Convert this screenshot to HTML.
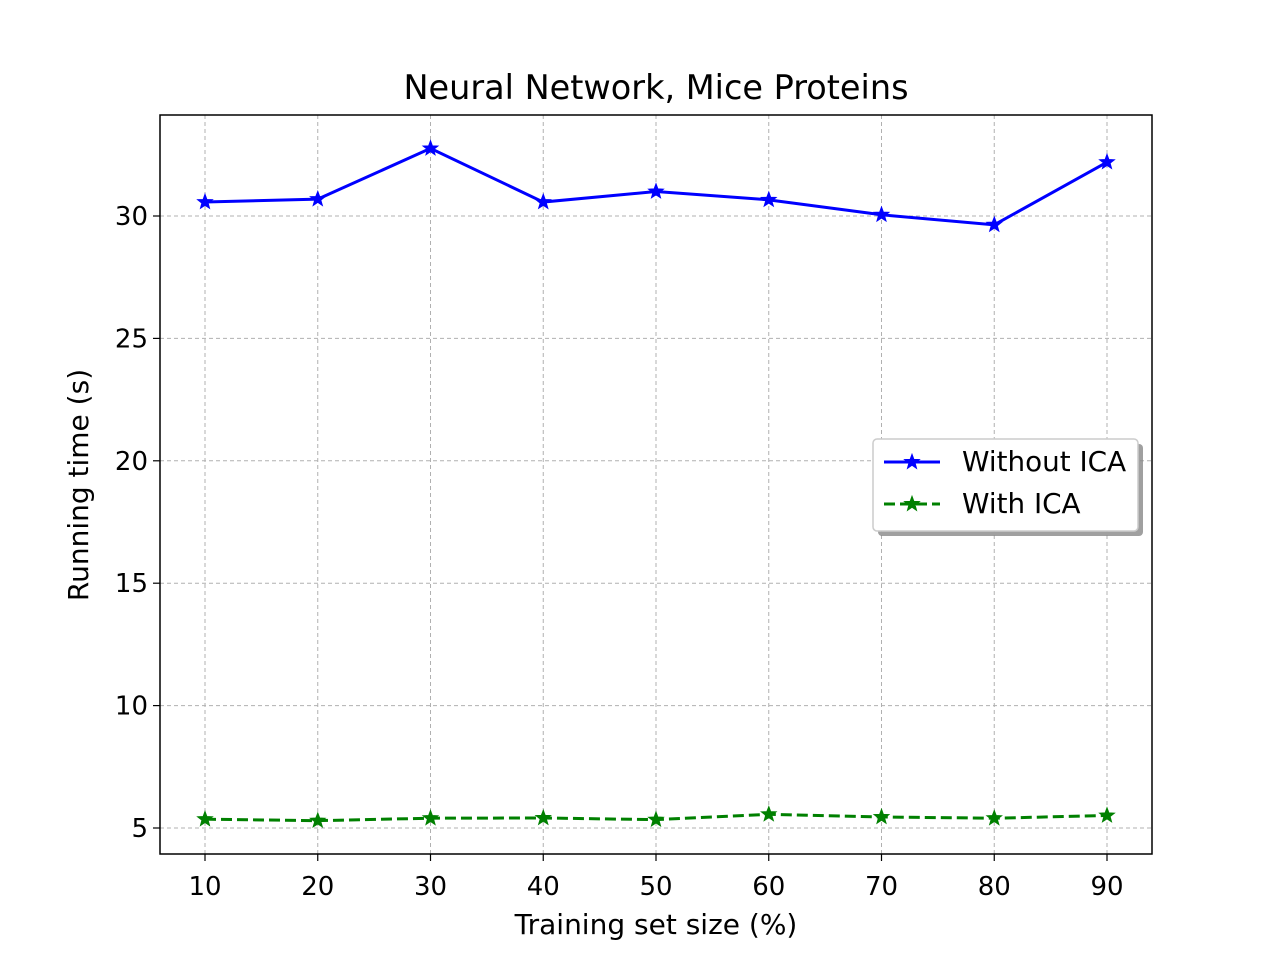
<!DOCTYPE html>
<html><head><meta charset="utf-8"><style>
html,body{margin:0;padding:0;background:#fff;}
svg text{font-family:"DejaVu Sans","Liberation Sans",sans-serif;fill:#000;}
</style></head><body>
<svg id="chart" width="1280" height="960" xmlns="http://www.w3.org/2000/svg">
<rect width="1280" height="960" fill="#fff"/>
<g id="grid"></g>
<g id="series"></g>
<rect x="160" y="115" width="992" height="739" fill="none" stroke="#000" stroke-width="1.5"/>
<g id="ticks"></g>
<text x="656" y="99" font-size="33.5" text-anchor="middle">Neural Network, Mice Proteins</text>
<text x="656" y="934" font-size="28" text-anchor="middle">Training set size (%)</text>
<text transform="translate(88,485) rotate(-90)" font-size="28" text-anchor="middle">Running time (s)</text>
<g>
<rect x="878" y="444" width="265" height="92" rx="4" fill="#888" opacity="0.8"/>
<rect x="873" y="439" width="265" height="92" rx="4" fill="#fff" stroke="#ccc" stroke-width="1.5"/>
<line x1="884" y1="462" x2="940" y2="462" stroke="#0000ff" stroke-width="3"/>
<text x="962" y="471" font-size="27.8">Without ICA</text>
<line x1="884" y1="504" x2="940" y2="504" stroke="#008000" stroke-width="3" stroke-dasharray="11,5"/>
<text x="962" y="513" font-size="27.8">With ICA</text>
<g id="legmarks"></g>
</g>
</svg>
<script>
const categories=[10,20,30,40,50,60,70,80,90];
const withoutIca=[30.57,30.69,32.76,30.57,31.0,30.66,30.05,29.64,32.2];
const withIca=[5.36,5.3,5.4,5.41,5.34,5.56,5.45,5.4,5.51];
const yTicks=[5,10,15,20,25,30];
const NS="http://www.w3.org/2000/svg";
function X(v){return 205+(v-10)*11.275;}
function Y(v){return 828-(v-5)*24.48;}
function mk(tag,attrs,parent){const e=document.createElementNS(NS,tag);for(const k in attrs)e.setAttribute(k,attrs[k]);parent.appendChild(e);return e;}
function star(cx,cy,r,color,parent){let p=[];for(let i=0;i<10;i++){const a=-Math.PI/2+i*Math.PI/5;const rr=i%2?r*0.42:r;p.push((cx+rr*Math.cos(a)).toFixed(1)+","+(cy+rr*Math.sin(a)).toFixed(1));}
const s=mk("polygon",{points:p.join(" "),fill:color,stroke:color,"stroke-width":1.5},parent);

}
const grid=document.getElementById("grid"),ticks=document.getElementById("ticks"),ser=document.getElementById("series");
categories.forEach(c=>{const x=X(c);
const g=mk("line",{x1:x,y1:115,x2:x,y2:854,stroke:"#b0b0b0","stroke-width":1,"stroke-dasharray":"4,3"},grid);


mk("line",{x1:x,y1:854,x2:x,y2:861,stroke:"#000","stroke-width":1.2},ticks);
const t=mk("text",{x:x,y:895,"font-size":26,"text-anchor":"middle"},ticks);t.textContent=c;

});
yTicks.forEach(v=>{const y=Y(v);
const g=mk("line",{x1:160,y1:y,x2:1152,y2:y,stroke:"#b0b0b0","stroke-width":1,"stroke-dasharray":"4,3"},grid);


mk("line",{x1:153,y1:y,x2:160,y2:y,stroke:"#000","stroke-width":1.2},ticks);
const t=mk("text",{x:148,y:y+9,"font-size":26,"text-anchor":"end"},ticks);t.textContent=v;

});
function line(vals,color,dash,name){
const pts=vals.map((v,i)=>X(categories[i])+","+Y(v)).join(" ");
const l=mk("polyline",{points:pts,fill:"none",stroke:color,"stroke-width":3,"stroke-dasharray":dash},ser);


vals.forEach((v,i)=>star(X(categories[i]),Y(v),7,color,ser));}
line(withoutIca,"#0000ff","none","line-without-ica");
line(withIca,"#008000","11,5","line-with-ica");
const lm=document.getElementById("legmarks");
star(912,462,7,"#0000ff",lm);star(912,504,7,"#008000",lm);
</script>
</body></html>
